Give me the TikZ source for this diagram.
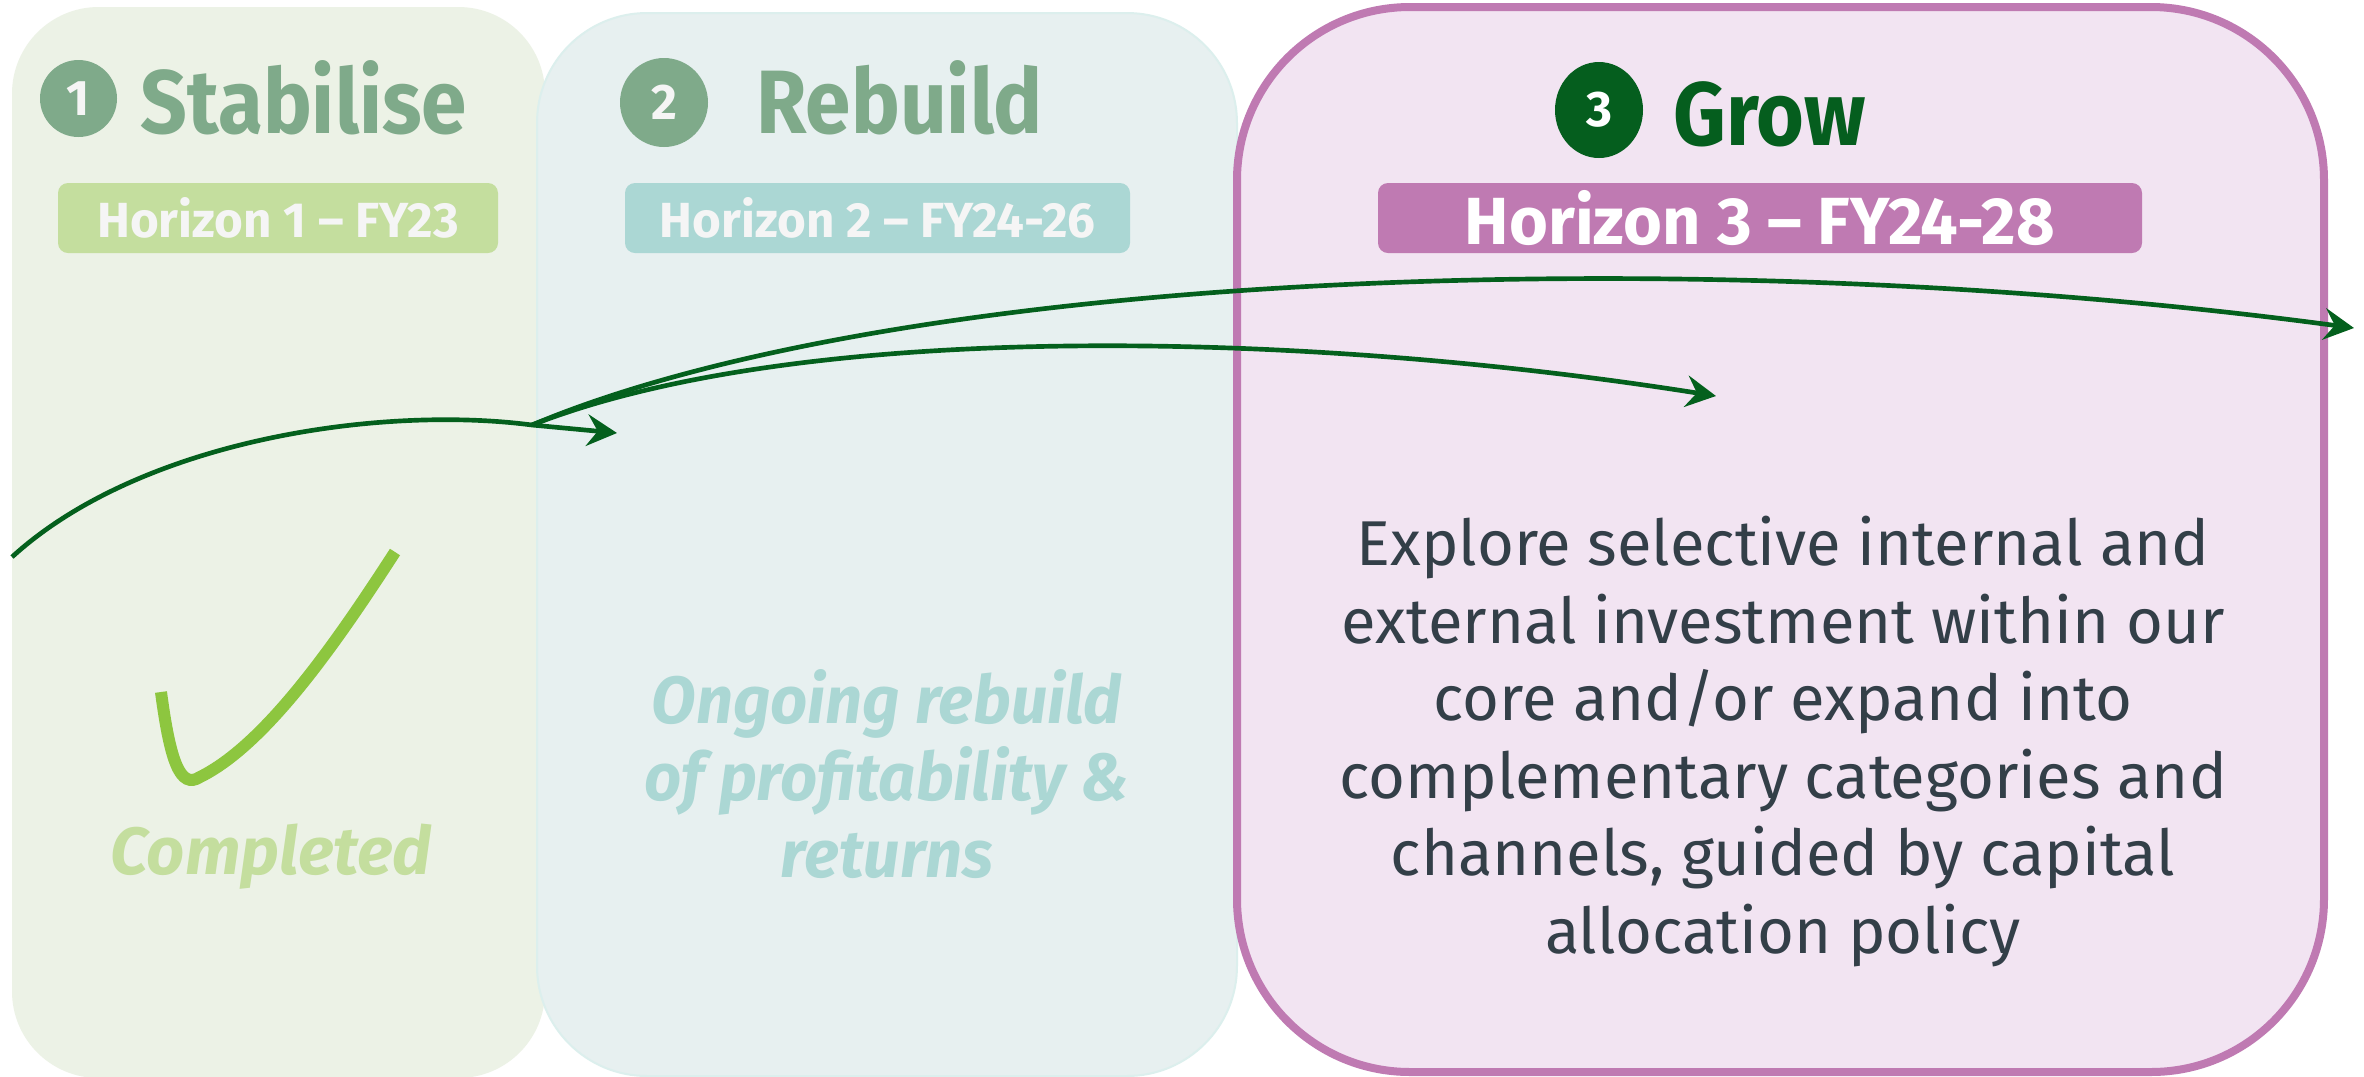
\documentclass[tikz,border=0pt]{standalone}
\usepackage{fontspec}
\setmainfont{Fira Sans}
\newfontfamily\titlefont{Fira Sans}[FakeStretch=0.91]
\newfontfamily\bodyfont{Fira Sans}[FakeStretch=1.0]
\newfontfamily\italfont{Fira Sans}[FakeStretch=0.975]
\usetikzlibrary{arrows.meta,shapes.geometric}
\definecolor{boxA}{HTML}{ECF2E6}
\definecolor{boxB}{HTML}{E7F0F0}
\definecolor{boxBline}{HTML}{DCEFED}
\definecolor{boxC}{HTML}{F2E4F2}
\definecolor{boxCline}{HTML}{BF7AB2}
\definecolor{sage}{HTML}{7FAA8A}
\definecolor{dkgreen}{HTML}{055E1E}
\definecolor{pillA}{HTML}{C4DE9E}
\definecolor{pillB}{HTML}{ABD7D4}
\definecolor{pillC}{HTML}{BF7AB2}
\definecolor{arrowc}{HTML}{04601D}
\definecolor{tickc}{HTML}{8DC63F}
\definecolor{bodytxt}{HTML}{333F48}
\definecolor{offwhite}{HTML}{F5F5F5}
\begin{document}
\begin{tikzpicture}[x=0.3pt,y=-0.3pt,
  panel/.style={inner sep=0pt, outer sep=0pt},
  numdot/.style={ellipse, inner sep=0pt, text=offwhite, font={\fontsize{15}{15}\selectfont\bfseries}},
  ttl/.style={anchor=base west, inner sep=0pt, font={\titlefont\fontsize{27}{30}\selectfont\bfseries}},
  pill/.style={rounded corners=3pt, inner sep=0pt, minimum height=21pt},
  pilltxt/.style={font={\fontsize{14.8}{16}\selectfont\bfseries}, text=offwhite},
  arr/.style={draw=arrowc, line width=1.4pt, -{Stealth[length=9pt,width=9.5pt,inset=3.2pt]}},
]
\useasboundingbox (0,0) rectangle (2364,1076);
\fill[white] (0,0) rectangle (2364,1076);

% panels
\node[panel, fill=boxA, rounded corners=26pt, minimum width=159.9pt, minimum height=321.3pt] (p1) at (278.5,542.5) {};
\node[panel, fill=boxB, draw=boxBline, line width=0.6pt, rounded corners=33pt, minimum width=210pt, minimum height=318.9pt] (p2) at (887,544.5) {};
\node[panel, fill=boxC, draw=boxCline, line width=2.4pt, rounded corners=51.9pt, minimum width=326.1pt, minimum height=319.5pt] (p3) at (1780.5,539.5) {};

% numbers and titles
\node[numdot, fill=sage, minimum width=23.1pt, minimum height=23.1pt] (n1) at (78.5,98.5) {1};
\node[ttl, text=sage] (t1) at (140,133) {Stabilise};
\node[numdot, fill=sage, minimum width=26.4pt, minimum height=26.7pt] (n2) at (664,102.5) {2};
\node[ttl, text=sage] (t2) at (756,133) {Rebuild};
\node[numdot, fill=dkgreen, text=white, minimum width=26.4pt, minimum height=28.8pt] (n3) at (1599,110) {3};
\node[ttl, text=dkgreen] (t3) at (1673,145) {Grow};

% horizon pills
\node[pill, fill=pillA, minimum width=132pt] (h1) at (278,218) {};
\node[pilltxt] (h1t) at (h1.center) {Horizon 1 – FY23};
\node[pill, fill=pillB, minimum width=151.5pt] (h2) at (877.5,218) {};
\node[pilltxt] (h2t) at (h2.center) {Horizon 2 – FY24-26};
\node[pill, fill=pillC, minimum width=229.2pt] (h3) at (1760,218) {};
\node[pilltxt, text=white, font={\fontsize{20}{22}\selectfont\bfseries}] (h3t) at (h3.center) {Horizon 3 – FY24-28};

% tick and status texts
\draw[tickc, line width=3.6pt] (161,692) .. controls (170,760) and (180,790) .. (200,777)
  .. controls (265,745) and (335,645) .. (395,552);
\node[anchor=base, inner sep=0pt, text=pillA, font={\fontsize{20}{23}\selectfont\bfseries\itshape}] (c1) at (271,874) {Completed};
\node[anchor=base, inner sep=0pt, align=center, text=pillB, font={\italfont\fontsize{20}{23.1}\selectfont\bfseries\itshape}] (c2) at (887,877) {Ongoing rebuild\\of profitability \&\\returns};
\node[anchor=base, inner sep=0pt, align=center, text=bodytxt, font={\bodyfont\fontsize{19}{23.25}\selectfont}] (c3) at (1783,953) {Explore selective internal and\\external investment within our\\core and/or expand into\\complementary categories and\\channels, guided by capital\\allocation policy};

% arrows
\coordinate (s0) at (12,557);
\coordinate (jn) at (532,425);
\coordinate (tA) at (617,433);
\coordinate (tB) at (1716,396);
\coordinate (tC) at (2354,328);
\draw[arr] (s0) .. controls (140,440) and (380,405) .. (jn) -- (tA);
\draw[arr] (jn) .. controls (800,320) and (1300,330) .. (tB);
\draw[arr] (jn) .. controls (900,270) and (1700,240) .. (tC);
\end{tikzpicture}
\end{document}
